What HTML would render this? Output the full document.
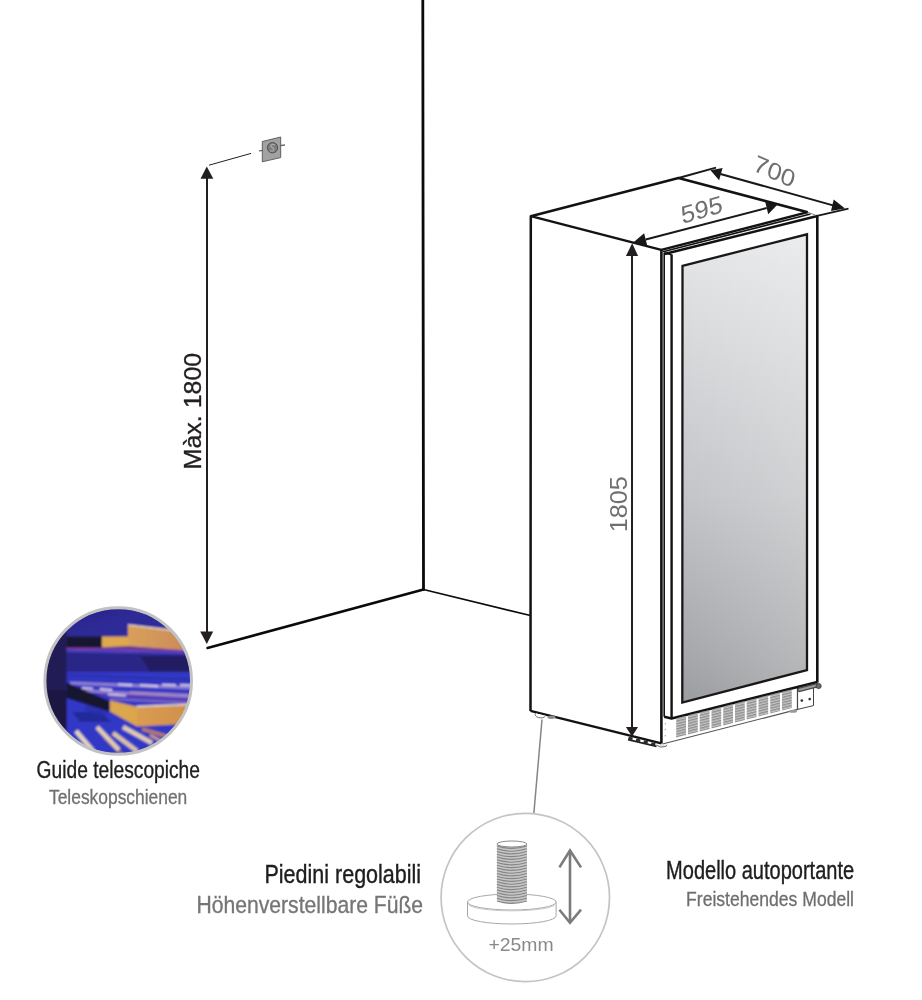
<!DOCTYPE html>
<html><head><meta charset="utf-8">
<style>
html,body{margin:0;padding:0;background:#fff;}
body{width:922px;height:1000px;overflow:hidden;}
svg{display:block;will-change:transform;}
text{font-family:"Liberation Sans",sans-serif;}
</style></head>
<body>
<svg width="922" height="1000" viewBox="0 0 922 1000">
<defs>
  <linearGradient id="glass" gradientUnits="userSpaceOnUse" x1="0" y1="234" x2="0" y2="703">
    <stop offset="0" stop-color="#e6e7e9"/>
    <stop offset="0.109" stop-color="#dfe0e2"/>
    <stop offset="0.556" stop-color="#c4c5c8"/>
    <stop offset="0.898" stop-color="#a6a7aa"/>
    <stop offset="1" stop-color="#9b9c9f"/>
  </linearGradient>
  <linearGradient id="glassh" gradientUnits="userSpaceOnUse" x1="683" y1="0" x2="807" y2="0">
    <stop offset="0" stop-color="#fff" stop-opacity="0"/>
    <stop offset="1" stop-color="#fff" stop-opacity="0.21"/>
  </linearGradient>
  <linearGradient id="topbg" x1="0" y1="0" x2="1" y2="1">
    <stop offset="0" stop-color="#2a2488"/>
    <stop offset="1" stop-color="#3230a6"/>
  </linearGradient>
  <linearGradient id="wood1" x1="0" y1="0" x2="1" y2="0">
    <stop offset="0" stop-color="#d9a05a"/>
    <stop offset="1" stop-color="#c8885a"/>
  </linearGradient>
  <linearGradient id="wood2" x1="0" y1="0" x2="1" y2="0">
    <stop offset="0" stop-color="#d99c50"/>
    <stop offset="1" stop-color="#cf8e4c"/>
  </linearGradient>
  <pattern id="grillepat" width="4" height="2.6" patternUnits="userSpaceOnUse" patternTransform="skewY(-14)">
    <rect width="4" height="2.6" fill="#c4c4c4"/>
    <rect y="0" width="4" height="1.3" fill="#8f8f8f"/>
  </pattern>
  <filter id="pblur" x="-5%" y="-5%" width="110%" height="110%"><feGaussianBlur stdDeviation="0.85"/></filter>
  <clipPath id="photoclip"><circle cx="118.2" cy="681" r="72.5"/></clipPath>
</defs>

<!-- WALL -->
<g stroke="#0a0a0a" fill="none" stroke-linecap="round">
  <line x1="422.8" y1="-2" x2="423.5" y2="589.5" stroke-width="2.8"/>
  <line x1="423.5" y1="589.5" x2="207.5" y2="648" stroke-width="2.5"/>
  <line x1="423.5" y1="589.5" x2="530.5" y2="615.5" stroke-width="1.7"/>
</g>

<!-- Max 1800 dimension -->
<g stroke="#231f20" fill="#231f20">
  <line x1="207" y1="178" x2="207" y2="632" stroke-width="2"/>
  <polygon points="206.8,166.5 200.5,178.8 213.3,178.8" stroke="none"/>
  <polygon points="206.8,644 200.2,631.5 213.2,631.5" stroke="none"/>
  <line x1="209" y1="165.2" x2="251" y2="153.4" stroke-width="1" fill="none"/>
</g>
<!-- socket -->
<g>
  <line x1="259" y1="150.9" x2="263" y2="150.3" stroke="#666" stroke-width="1.3"/>
  <line x1="280" y1="145.6" x2="285" y2="145" stroke="#666" stroke-width="1.3"/>
  <polygon points="262.3,141.5 280.7,137 280.7,157.6 262.3,161.8" fill="#a2a2a2" stroke="#555" stroke-width="0.9"/>
  <circle cx="272.5" cy="147.7" r="5.2" fill="#7c7c7c" stroke="#4a4a4a" stroke-width="0.9"/>
  <path d="M274.8,145 C272.8,143.6 270.2,144.6 271.2,146.4 C272,147.8 274.6,148.2 273.7,150.2 C272.9,151.6 270.8,151.2 270,150.4" fill="none" stroke="#a8a8a8" stroke-width="1.3"/>
</g>
<text x="0" y="0" transform="translate(201,469.4) rotate(-90)" font-size="24.6" fill="#231f20" stroke="#231f20" stroke-width="0.35" textLength="116.6" lengthAdjust="spacingAndGlyphs">Màx. 1800</text>

<!-- FRIDGE -->
<g id="fridge">
  <!-- left side face -->
  <polygon points="530.8,216.2 661.3,249.8 661.3,743.4 530.5,710.9" fill="#fff"/>
  <!-- glass -->
  <polygon points="682.5,265.8 807,234.3 807,670 682.3,702.5" fill="url(#glass)"/>
  <polygon points="682.5,265.8 807,234.3 807,670 682.3,702.5" fill="url(#glassh)" stroke="#1a1718" stroke-width="2.3"/>
  <g stroke="#121212" fill="none" stroke-linejoin="round">
    <!-- top face -->
    <polyline points="530.5,711 530.8,216.2 678.5,178 807.7,212.2" stroke-width="2.5"/>
    <line x1="530.8" y1="216.2" x2="661.3" y2="249.8" stroke-width="2.4"/>
    <line x1="661.3" y1="249.8" x2="807.7" y2="212.2" stroke-width="2.4"/>
    <line x1="663" y1="251.8" x2="810.5" y2="214" stroke-width="1.7"/>
    <line x1="664.5" y1="254" x2="817.3" y2="216" stroke-width="2.4"/>
    <line x1="664.2" y1="252.8" x2="671.6" y2="254.8" stroke-width="1.6"/>
    <line x1="807.7" y1="212.2" x2="815.5" y2="215.2" stroke-width="1" stroke="#888"/>
    <!-- verticals -->
    <line x1="661.4" y1="249.5" x2="661.4" y2="743.4" stroke-width="2.6"/>
    <line x1="664.2" y1="253" x2="664.2" y2="716.7" stroke-width="1.6"/>
    <line x1="671.6" y1="254.5" x2="671.6" y2="718.5" stroke-width="2.4"/>
    <line x1="817.3" y1="215.5" x2="817.3" y2="682.5" stroke-width="2.6"/>
    <!-- door bottom -->
    <polyline points="664.2,716.7 671.6,718.5 817.4,682" stroke-width="2.5"/>
    <!-- bottom of body -->
    <line x1="530.5" y1="710.9" x2="661.4" y2="743.4" stroke-width="2.4"/>
    <!-- kickplate -->
    <line x1="662.5" y1="744" x2="797.6" y2="709.4" stroke-width="1.2" stroke="#555"/>
    <line x1="797.6" y1="688" x2="797.6" y2="709.6" stroke-width="1.4"/>
  </g>
  <!-- bracket -->
  <polygon points="797.6,689.5 813.5,685.8 813.5,705.6 797.6,709.4" fill="#fff" stroke="#444" stroke-width="1"/>
  <circle cx="801.8" cy="700.6" r="1.3" fill="#333"/>
  <circle cx="809.7" cy="699.1" r="1.3" fill="#333"/>
  <path d="M799.5,689.8 L817,685.3" stroke="#4a4a4a" stroke-width="4.6" stroke-linecap="round"/>
  <path d="M799.5,689.8 L817,685.3" stroke="#9a9a9a" stroke-width="2" stroke-linecap="round"/>
  <circle cx="818.6" cy="686" r="2.6" fill="#6a6a6a" stroke="#3a3a3a" stroke-width="0.8"/>
  <!-- kick plate dots -->
  <circle cx="665.3" cy="723.7" r="0.8" fill="#aaa"/>
  <circle cx="665.3" cy="729.5" r="0.8" fill="#aaa"/>
  <circle cx="665.3" cy="735.7" r="0.8" fill="#aaa"/>
  <!-- grille -->
  <g id="grille" fill="url(#grillepat)"><polygon points="676.2,718.2 686.0,715.7 686.0,735.0 676.2,737.5"/><polygon points="688.0,715.2 697.8,712.8 697.8,732.0 688.0,734.5"/><polygon points="699.7,712.3 709.5,709.9 709.5,729.0 699.7,731.5"/><polygon points="711.5,709.4 721.2,706.9 721.2,726.0 711.5,728.5"/><polygon points="723.2,706.5 733.0,704.0 733.0,723.0 723.2,725.5"/><polygon points="735.0,703.5 744.8,701.1 744.8,719.9 735.0,722.5"/><polygon points="746.7,700.6 756.5,698.2 756.5,716.9 746.7,719.4"/><polygon points="758.5,697.7 768.2,695.2 768.2,713.9 758.5,716.4"/><polygon points="770.2,694.8 780.0,692.3 780.0,710.9 770.2,713.4"/><polygon points="782.0,691.8 791.8,689.4 791.8,707.9 782.0,710.4"/></g>
  <!-- feet -->
  <path d="M535.6,713.2 A5,3 0 0 0 545.6,715.8" fill="#fff" stroke="#6a6a6a" stroke-width="1"/>
  <ellipse cx="551.5" cy="717.3" rx="4" ry="1.7" fill="#8c8c8c"/>
  <line x1="628" y1="739.6" x2="656.5" y2="746.4" stroke="#222" stroke-width="1.7"/>
  <line x1="628.5" y1="737.9" x2="657" y2="744.8" stroke="#2a2a2a" stroke-width="2.6" stroke-dasharray="4.2 3.6"/>
  <path d="M656,745 Q660,748.5 666,746.5 L667,744.8" fill="#ddd" stroke="#777" stroke-width="1"/>
  <ellipse cx="793" cy="711.2" rx="4" ry="1.5" fill="#999"/>
</g>

<!-- 1805 dimension -->
<g fill="#231f20">
  <line x1="632" y1="255" x2="632" y2="727" stroke="#231f20" stroke-width="2"/>
  <polygon points="632.2,243.2 625.9,256 638.1,256"/>
  <polygon points="632,736.5 625.9,726.9 638,726.9"/>
</g>
<text transform="translate(626.6,532.3) rotate(-90)" font-size="24.5" fill="#6f6f6f" textLength="56" lengthAdjust="spacingAndGlyphs">1805</text>

<!-- 595 dimension -->
<g fill="#1a1718">
  <line x1="645.7" y1="239.5" x2="766.7" y2="208" stroke="#1a1718" stroke-width="2"/>
  <polygon points="633.3,242.5 644.1,233.2 647.4,246.3"/>
  <polygon points="777.8,204.3 765.2,201.7 768.2,214.3"/>
</g>
<text transform="matrix(1.03,-0.30,0.14,1.01,682.2,223.9)" font-size="24" fill="#6f6f6f">595</text>

<!-- 700 dimension -->
<g fill="#1a1718">
  <line x1="678.5" y1="178" x2="716" y2="167.6" stroke="#1a1718" stroke-width="2"/>
  <line x1="720.5" y1="174" x2="833" y2="205.4" stroke="#1a1718" stroke-width="2"/>
  <polygon points="710.5,170.3 722.6,168 719.1,180.2"/>
  <polygon points="845,208.5 833.7,199.5 831,210.9"/>
  <line x1="817" y1="215.8" x2="848.5" y2="208.6" stroke="#1a1718" stroke-width="1.8"/>
</g>
<text transform="matrix(1.004,0.45,-0.30,0.93,752.0,170.1)" font-size="24" fill="#6f6f6f">700</text>

<!-- PHOTO CIRCLE -->
<g>
  <g clip-path="url(#photoclip)"><g filter="url(#pblur)">
    <rect x="40" y="600" width="160" height="160" fill="#2c2890"/>
    <rect x="66" y="600" width="130" height="40" fill="url(#topbg)"/>
    <!-- bright blue lower region -->
    <rect x="66" y="670" width="130" height="90" fill="#3338c6"/>
    <!-- upper slats -->
    <g stroke-linecap="butt">
      <line x1="70" y1="683" x2="196" y2="688" stroke="#8f80d2" stroke-width="3"/>
      <line x1="70" y1="690" x2="196" y2="697" stroke="#9a84cc" stroke-width="2.6"/>
      <line x1="100" y1="694.5" x2="196" y2="701" stroke="#6a3aa8" stroke-width="1.6"/>
    </g>
    <g stroke-linecap="butt" opacity="0.9">
      <line x1="66" y1="675" x2="196" y2="680" stroke="#2628a0" stroke-width="1.4"/>
      <line x1="66" y1="679" x2="196" y2="684" stroke="#2a2ca8" stroke-width="1.2"/>
      <line x1="110" y1="699" x2="196" y2="703" stroke="#8a70c0" stroke-width="2.2"/>
      <line x1="130" y1="692" x2="196" y2="695" stroke="#c090b0" stroke-width="1.4"/>
    </g>
    <g stroke="#e0d2ee" stroke-width="1.8">
      <line x1="118" y1="684.4" x2="132" y2="685"/>
      <line x1="140" y1="685.2" x2="158" y2="686"/>
      <line x1="162" y1="684.6" x2="176" y2="685.2"/>
      <line x1="180" y1="684.8" x2="194" y2="685.4"/>
      <line x1="82" y1="687.8" x2="93" y2="688.6"/>
      <line x1="100" y1="689" x2="112" y2="690"/>
      <line x1="108" y1="694.4" x2="126" y2="695.6"/>
    </g>
    <!-- dark shadows in blue -->
    <polygon points="72,712 100,712 112,722 80,722" fill="#242a9a"/>
    <polygon points="88,702 110,713 100,718 84,710" fill="#2a2ea8" opacity="0.7"/>
    <!-- dark blue panel under upper shelf -->
    <rect x="66" y="652" width="130" height="20" fill="#2c2888"/>
    <polygon points="140,656 185,656 196,660 196,672 150,672" fill="#221d62"/>
    <!-- magenta band -->
    <polygon points="66,646.8 196,649.3 196,652.3 66,649.8" fill="#7c3aa6"/>
    <polygon points="66,649.8 196,652.3 196,654.5 66,652" fill="#4640c4"/>
    <!-- upper black rail -->
    <rect x="66.5" y="636.5" width="35.5" height="11" fill="#18142f"/>
    <!-- upper wood -->
    <polygon points="102,636.5 129,636.5 129,646.3 102,647.3" fill="#dea84e"/>
    <polygon points="128,625 170,630 196,632.5 196,651 128,646.3" fill="url(#wood1)"/>
    <line x1="128" y1="624.9" x2="172" y2="630.2" stroke="#ece0d0" stroke-width="1.4"/>
    <!-- lower black rail -->
    <polygon points="66.5,682.5 109.5,701 109.5,711.5 66.5,698" fill="#16132e"/>
    <!-- lower wood -->
    <polygon points="110,700.5 137,706.8 137,726.6 110,711.5" fill="#dca64c"/>
    <polygon points="137,706.8 196,704.3 196,723.5 137,726.6" fill="url(#wood2)"/>
    <line x1="136.5" y1="706.6" x2="196" y2="704.2" stroke="#efe4d8" stroke-width="1.5"/>
    <!-- bottom slats -->
    <g stroke-linecap="butt">
      <line x1="142" y1="729" x2="166" y2="736" stroke="#b47a6a" stroke-width="3.5"/>
      <line x1="104" y1="737" x2="124" y2="756" stroke="#a86a6a" stroke-width="3" opacity="0.85"/>
      <line x1="76" y1="731" x2="93" y2="751" stroke="#e6d4bc" stroke-width="4.5"/>
      <line x1="97" y1="727" x2="119" y2="750" stroke="#e2ccb0" stroke-width="4.5"/>
      <line x1="123" y1="727" x2="152" y2="743" stroke="#e2cab0" stroke-width="4.5"/>
      <line x1="113" y1="733" x2="137" y2="751" stroke="#dcc2a6" stroke-width="4.5"/>
      <line x1="150" y1="735" x2="168" y2="745" stroke="#c89a84" stroke-width="3"/>
    </g>
    <!-- left dark band -->
    <polygon points="40,600 66.5,600 66.5,740 80,760 40,760" fill="#231a56"/>
    <polygon points="40,690 66.5,690 66.5,740 82,760 40,760" fill="#1c1442"/>
  </g></g>
  <circle cx="118.2" cy="681" r="73.3" fill="none" stroke="#c2c2c2" stroke-width="3"/>
</g>
<text x="36.6" y="778.0" font-size="23" fill="#1e1e1e" stroke="#1e1e1e" stroke-width="0.35" textLength="163.4" lengthAdjust="spacingAndGlyphs">Guide telescopiche</text>
<text x="49" y="804.3" font-size="20.5" fill="#707070" stroke="#707070" stroke-width="0.3" textLength="138.3" lengthAdjust="spacingAndGlyphs">Teleskopschienen</text>

<!-- FOOT CIRCLE -->
<line x1="542" y1="719.5" x2="533.8" y2="814" stroke="#858585" stroke-width="1.5"/>
<circle cx="525.3" cy="897.5" r="84.2" fill="#fff" stroke="#c4c4c4" stroke-width="1.7"/>
<g id="foot">
  <path d="M467.5,902 L467.5,916 A44.3,8 0 0 0 556.1,916 L556.1,902 Z" fill="#fff" stroke="#a8a8a8" stroke-width="1"/>
  <ellipse cx="511.8" cy="902" rx="44.3" ry="8" fill="#fff" stroke="#a8a8a8" stroke-width="1"/>
  <path d="M468.5,904.5 A43.5,7 0 0 0 555.1,904.5" fill="none" stroke="#c4c4c4" stroke-width="0.9"/>
  <path d="M496.9,844 L496.9,900.5 Q511.9,906.5 526.9,900.5 L526.9,844 Z" fill="#c6c6c6"/>
  <path d="M496.9,846.0Q511.9,850.8 526.9,846.0M496.9,848.8Q511.9,853.6 526.9,848.8M496.9,851.5Q511.9,856.3 526.9,851.5M496.9,854.2Q511.9,859.1 526.9,854.2M496.9,857.0Q511.9,861.8 526.9,857.0M496.9,859.8Q511.9,864.6 526.9,859.8M496.9,862.5Q511.9,867.3 526.9,862.5M496.9,865.2Q511.9,870.1 526.9,865.2M496.9,868.0Q511.9,872.8 526.9,868.0M496.9,870.8Q511.9,875.6 526.9,870.8M496.9,873.5Q511.9,878.3 526.9,873.5M496.9,876.2Q511.9,881.1 526.9,876.2M496.9,879.0Q511.9,883.8 526.9,879.0M496.9,881.8Q511.9,886.6 526.9,881.8M496.9,884.5Q511.9,889.3 526.9,884.5M496.9,887.2Q511.9,892.1 526.9,887.2M496.9,890.0Q511.9,894.8 526.9,890.0M496.9,892.8Q511.9,897.6 526.9,892.8M496.9,895.5Q511.9,900.3 526.9,895.5M496.9,898.2Q511.9,903.1 526.9,898.2M496.9,901.0Q511.9,905.8 526.9,901.0" fill="none" stroke="#858585" stroke-width="1.05"/>
  <ellipse cx="511.9" cy="844" rx="15.0" ry="3" fill="#fff" stroke="#8a8a8a" stroke-width="1"/>
  <g stroke="#7b7b7b" stroke-width="2.6" fill="none" stroke-linecap="butt" stroke-linejoin="miter">
    <line x1="570" y1="851" x2="570" y2="922"/>
    <polyline points="559.4,867.4 570,850.5 581,867.4"/>
    <polyline points="559.4,909.7 570,922.8 581,909.7"/>
  </g>
</g>
<text x="488.4" y="950.6" font-size="19.2" fill="#8a8a8a" textLength="65.2" lengthAdjust="spacingAndGlyphs">+25mm</text>

<text x="264.5" y="883.3" font-size="26" fill="#1e1e1e" stroke="#1e1e1e" stroke-width="0.4" textLength="156.6" lengthAdjust="spacingAndGlyphs">Piedini regolabili</text>
<text x="196.5" y="913" font-size="24.5" fill="#767676" stroke="#767676" stroke-width="0.35" textLength="226.6" lengthAdjust="spacingAndGlyphs">Höhenverstellbare Füße</text>
<text x="666.1" y="879.2" font-size="25" fill="#1e1e1e" stroke="#1e1e1e" stroke-width="0.4" textLength="188" lengthAdjust="spacingAndGlyphs">Modello autoportante</text>
<text x="686.1" y="905.5" font-size="21" fill="#6e6e6e" stroke="#6e6e6e" stroke-width="0.3" textLength="167.9" lengthAdjust="spacingAndGlyphs">Freistehendes Modell</text>
</svg>
</body></html>
